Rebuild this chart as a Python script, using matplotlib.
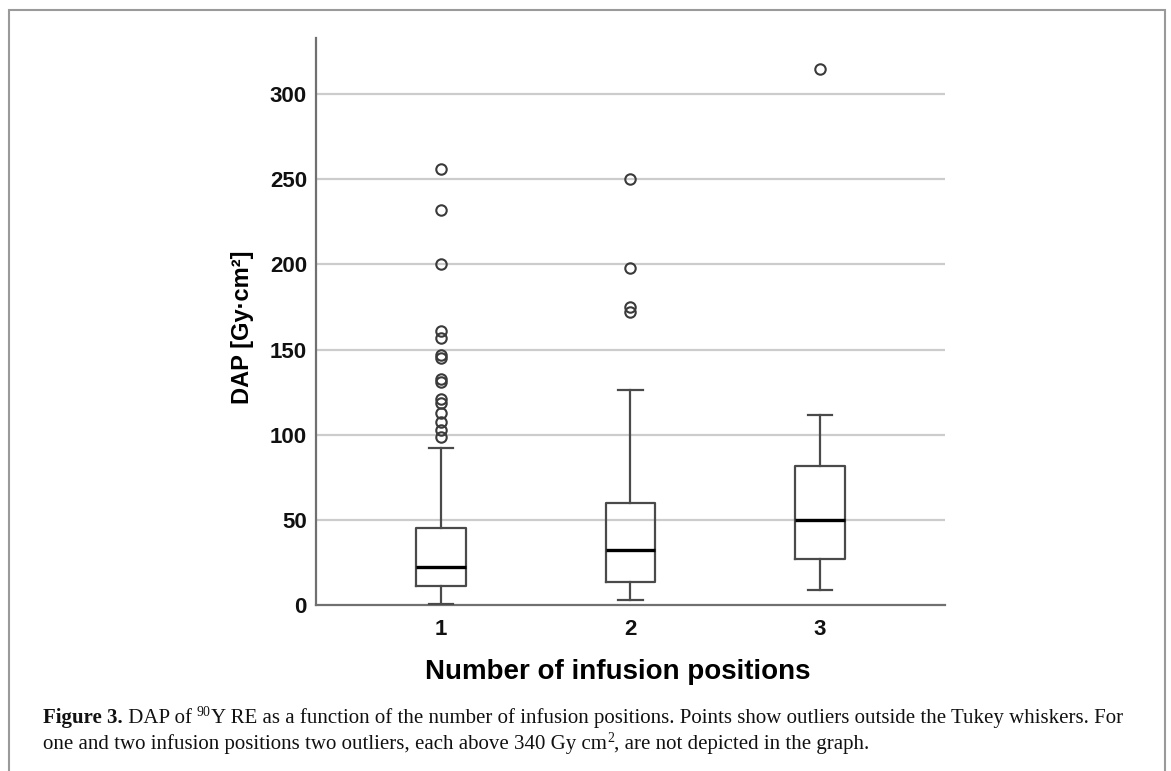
import matplotlib
matplotlib.use("Agg")
import matplotlib.pyplot as plt
from matplotlib.patches import Rectangle

# ---- data ----
categories = ["1", "2", "3"]
whisker_low = [0.5, 3.0, 8.7]
q1_values = [11.0, 13.3, 27.1]
medians = [22.5, 32.3, 49.9]
q3_values = [45.4, 59.7, 81.7]
whisker_high = [92.3, 126.2, 111.6]
outliers_1 = [256, 232, 200, 161, 157, 147, 145, 133, 131, 121, 118.5, 113, 107.5, 102.5, 98.5]
outliers_2 = [250, 198, 175, 172]
outliers_3 = [315]
outliers = [outliers_1, outliers_2, outliers_3]
y_ticks = [0, 50, 100, 150, 200, 250, 300]

W, H = 1171, 771
fig = plt.figure(figsize=(W / 100, H / 100), dpi=100)
fig.patch.set_facecolor("white")

# outer frame
fig.patches.append(Rectangle((9 / W, -0.05), (1165 - 9) / W, 1.05 - 10.5 / H,
                             transform=fig.transFigure, fill=False,
                             edgecolor="#9a9a9a", linewidth=1.5))

ax = fig.add_axes([316 / W, 1 - 605 / H, (945 - 316) / W, (605 - 38) / H])

stats = []
for i, c in enumerate(categories):
    stats.append(dict(label=c, whislo=whisker_low[i], q1=q1_values[i], med=medians[i],
                      q3=q3_values[i], whishi=whisker_high[i], fliers=outliers[i]))

edge = "#4a4a4a"
ax.bxp(stats, positions=[1, 2, 3], widths=0.26, showfliers=True,
       boxprops=dict(color=edge, linewidth=1.6),
       whiskerprops=dict(color=edge, linewidth=1.6),
       capprops=dict(color=edge, linewidth=1.6),
       medianprops=dict(color="black", linewidth=2.4),
       flierprops=dict(marker="o", markersize=7.5, markerfacecolor="none",
                       markeredgecolor="#3a3a3a", markeredgewidth=1.5),
       capwidths=0.13, zorder=3)

ax.set_xlim(0.34, 3.66)
ax.set_ylim(0, 333)
ax.set_yticks(y_ticks)
ax.set_xticks([1, 2, 3])
ax.set_xticklabels(categories)
for yv in y_ticks[1:]:
    ax.axhline(yv, color="#cccccc", linewidth=1.6, zorder=1)

for s in ["top", "right"]:
    ax.spines[s].set_visible(False)
for s in ["left", "bottom"]:
    ax.spines[s].set_color("#707070")
    ax.spines[s].set_linewidth(1.6)
ax.tick_params(axis="y", length=0, pad=6.5)
ax.tick_params(axis="x", length=0, pad=10)
for lab in ax.get_yticklabels() + ax.get_xticklabels():
    lab.set_fontfamily("Liberation Sans")
    lab.set_fontweight("bold")
    lab.set_fontsize(16)
    lab.set_color("#111111")

ax.set_ylabel("DAP [Gy·cm²]", fontfamily="Liberation Sans", fontweight="bold",
              fontsize=17, labelpad=14)
ax.yaxis.set_label_coords(-0.099, 0.49)
ax.set_xlabel("Number of infusion positions", fontfamily="Liberation Sans",
              fontweight="bold", fontsize=20, labelpad=16)
ax.xaxis.set_label_coords(0.48, -0.096)

# ---- caption with mixed runs ----
fig.canvas.draw()
renderer = fig.canvas.get_renderer()

def draw_runs(x_px, base_px, runs):
    x = x_px
    for txt, weight, size, rise in runs:
        t = fig.text(x / W, 1 - (base_px - rise) / H, txt, fontfamily="Liberation Serif",
                     fontweight=weight, fontsize=size, va="baseline", ha="left",
                     color="#111111")
        bb = t.get_window_extent(renderer=renderer)
        x += bb.width

draw_runs(43, 723, [
    ("Figure 3.", "bold", 15, 0),
    (" DAP of ", "normal", 15, 0),
    ("90", "normal", 10, 7),
    ("Y RE as a function of the number of infusion positions. Points show outliers outside the Tukey whiskers. For",
     "normal", 15, 0),
])
draw_runs(43, 749, [
    ("one and two infusion positions two outliers, each above 340 Gy cm", "normal", 15, 0),
    ("2", "normal", 10, 7),
    (", are not depicted in the graph.", "normal", 15, 0),
])

fig.savefig("out.png", dpi=100, facecolor="white")
